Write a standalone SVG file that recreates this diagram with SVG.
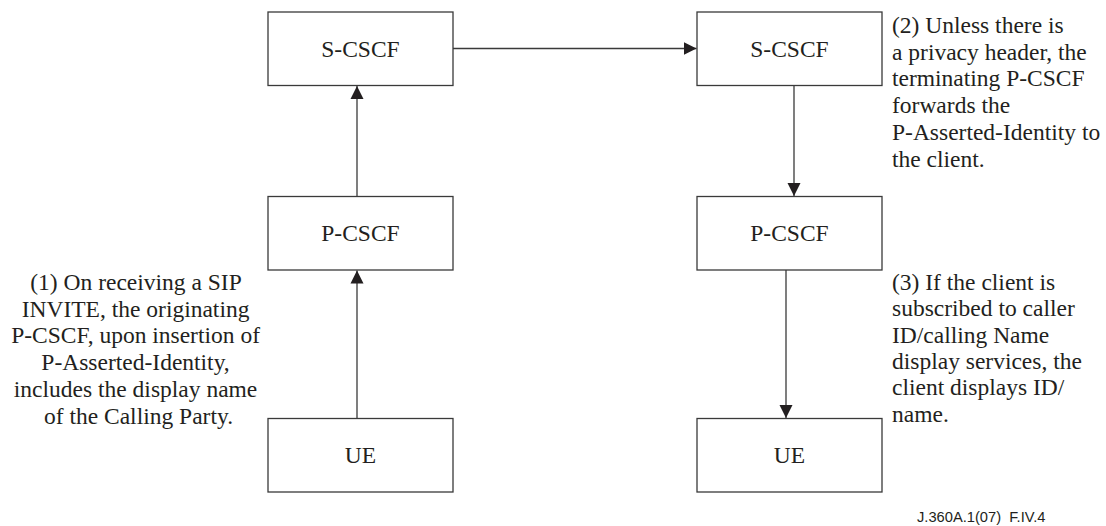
<svg xmlns="http://www.w3.org/2000/svg" width="1106" height="526" viewBox="0 0 1106 526">
  <style>
    .box { fill: #ffffff; stroke: #3a3a3a; stroke-width: 1.3; }
    .label { font-family: "Liberation Serif", "Times New Roman", serif; font-size: 23.5px; fill: #231f20; text-anchor: middle; }
    .note { font-family: "Liberation Serif", "Times New Roman", serif; font-size: 23.5px; fill: #231f20; }
    .conn { stroke: #3a3a3a; stroke-width: 1.3; fill: none; marker-end: url(#arrow); }
    .figid { font-family: "Liberation Sans", Arial, sans-serif; font-size: 14.7px; fill: #231f20; }
  </style>
  <defs>
    <marker id="arrow" markerUnits="userSpaceOnUse" markerWidth="14" markerHeight="14" viewBox="0 0 14 14" refX="13" refY="7" orient="auto">
      <path d="M0,0.5 L13,7 L0,13.5 Z" fill="#231f20"/>
    </marker>
  </defs>

  <!-- originating side -->
  <g id="orig-scscf">
    <rect class="box" x="268" y="12" width="185" height="73.5"/>
    <text class="label" x="360.5" y="56.5">S-CSCF</text>
  </g>
  <g id="orig-pcscf">
    <rect class="box" x="268" y="196.5" width="185" height="73.5"/>
    <text class="label" x="360.5" y="241">P-CSCF</text>
  </g>
  <g id="orig-ue">
    <rect class="box" x="268" y="418.5" width="185" height="73.5"/>
    <text class="label" x="360.5" y="463">UE</text>
  </g>

  <!-- terminating side -->
  <g id="term-scscf">
    <rect class="box" x="697" y="12" width="185" height="73.5"/>
    <text class="label" x="789.5" y="56.5">S-CSCF</text>
  </g>
  <g id="term-pcscf">
    <rect class="box" x="697" y="196.5" width="185" height="73.5"/>
    <text class="label" x="789.5" y="241">P-CSCF</text>
  </g>
  <g id="term-ue">
    <rect class="box" x="697" y="418.5" width="185" height="73.5"/>
    <text class="label" x="789.5" y="463">UE</text>
  </g>

  <g id="connectors">
    <line class="conn" x1="357" y1="418.5" x2="357" y2="270.5"/>
    <line class="conn" x1="357" y1="196.5" x2="357" y2="86"/>
    <line class="conn" x1="453" y1="48.5" x2="696.5" y2="48.5"/>
    <line class="conn" x1="794" y1="85.5" x2="794" y2="196"/>
    <line class="conn" x1="786" y1="270" x2="786" y2="418"/>
  </g>

  <g id="note-1">
    <text class="note" text-anchor="middle">
      <tspan x="138.5" y="290">(1) On receiving a SIP</tspan>
      <tspan x="138.5" y="316.7">INVITE, the originating</tspan>
      <tspan x="138.5" y="343.4">P-CSCF, upon insertion of</tspan>
      <tspan x="138.5" y="370.1">P-Asserted-Identity,</tspan>
      <tspan x="138.5" y="396.8">includes the display name</tspan>
      <tspan x="138.5" y="423.5">of the Calling Party.</tspan>
    </text>
  </g>

  <g id="note-2">
    <text class="note">
      <tspan x="892" y="33">(2) Unless there is</tspan>
      <tspan x="892" y="59.7">a privacy header, the</tspan>
      <tspan x="892" y="86.4">terminating P-CSCF</tspan>
      <tspan x="892" y="113.1">forwards the</tspan>
      <tspan x="892" y="139.8">P-Asserted-Identity to</tspan>
      <tspan x="892" y="166.5">the client.</tspan>
    </text>
  </g>

  <g id="note-3">
    <text class="note">
      <tspan x="892" y="290">(3) If the client is</tspan>
      <tspan x="892" y="316.3">subscribed to caller</tspan>
      <tspan x="892" y="342.6">ID/calling Name</tspan>
      <tspan x="892" y="368.9">display services, the</tspan>
      <tspan x="892" y="395.2">client displays ID/</tspan>
      <tspan x="892" y="421.5">name.</tspan>
    </text>
  </g>

  <text class="figid" x="917" y="521.5" xml:space="preserve">J.360A.1(07)  F.IV.4</text>
</svg>
